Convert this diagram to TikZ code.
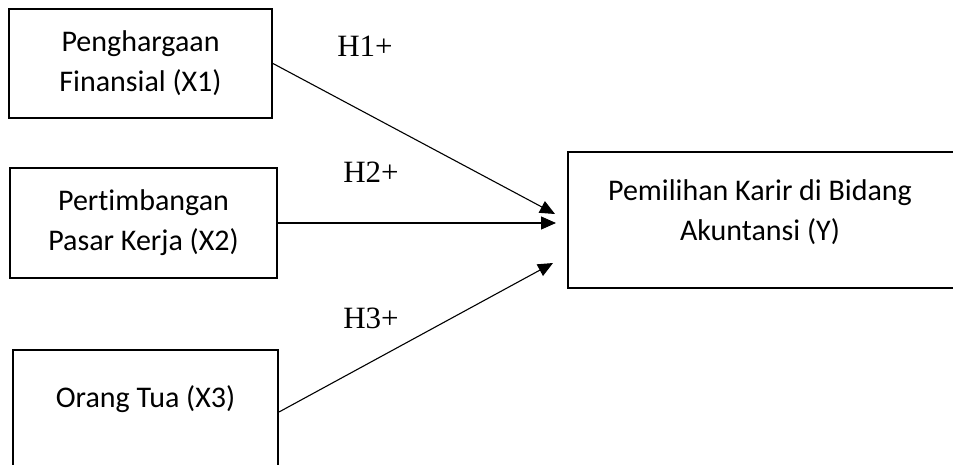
\documentclass[tikz,border=0pt]{standalone}
\usepackage{fontspec}
\setmainfont{Carlito}[Ligatures=NoCommon]
\newfontfamily\hfont{Liberation Serif}
\usetikzlibrary{arrows.meta}
\begin{document}
\begin{tikzpicture}[x=1pt,y=-1pt,
  varbox/.style={draw, line width=2pt, rectangle, inner sep=0pt},
  boxtext/.style={align=center, font=\fontsize{30}{40}\selectfont, inner sep=0pt},
  hyplabel/.style={font=\hfont\fontsize{31}{36}\selectfont, inner sep=0pt},
  link/.style={line width=1.1pt, -{Triangle[length=15pt,width=13pt]}}]
\useasboundingbox (0,0) rectangle (953,464);
% independent variables
\node[varbox, minimum width=263, minimum height=109, boxtext] (X1) at (140.5,63.5)
  {Penghargaan\\Finansial (X1)};
\node[varbox, minimum width=267, minimum height=110, boxtext] (X2) at (143.5,223)
  {Pertimbangan\\Pasar Kerja (X2)};
\node[varbox, minimum width=265, minimum height=124] (X3) at (145.5,412) {};
\node[boxtext] (X3t) at (145.5,399) {Orang Tua (X3)};
% dependent variable
\node[varbox, minimum width=394, minimum height=136] (Y) at (765,220) {};
\node[boxtext] (Yt) at (760,212) {Pemilihan Karir di Bidang\\Akuntansi (Y)};
% arrow targets just left of the dependent box
\coordinate (t1) at ([xshift=-12pt]Y.west |- 0,214);
\coordinate (t2) at ([xshift=-11pt]Y.west |- 0,223);
\coordinate (t3) at ([xshift=-14pt]Y.west |- 0,263);
\draw[link] (X1.east) -- (t1);
\draw[link] (X2.east) -- (t2);
\draw[link] (X3.east) -- (t3);
% hypothesis labels
\node[hyplabel] (h1) at (365,46) {H1+};
\node[hyplabel] (h2) at (371,172) {H2+};
\node[hyplabel] (h3) at (371,318) {H3+};
\end{tikzpicture}
\end{document}
